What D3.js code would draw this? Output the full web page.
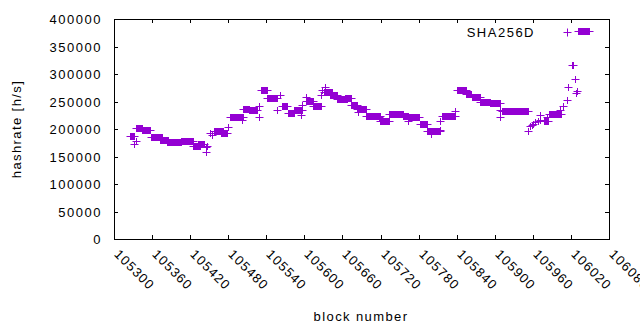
<!DOCTYPE html>
<html>
<head>
<meta charset="utf-8">
<script src="https://cdn.jsdelivr.net/npm/d3@7"></script>
<style>
body { margin: 0; background: #fff; }
text { font-family: "Liberation Sans", Arial, sans-serif; fill: #000; }
</style>
</head>
<body>
<svg width="640" height="330"></svg>
<script>
var xTicks = [105300, 105360, 105420, 105480, 105540, 105600, 105660,
              105720, 105780, 105840, 105900, 105960, 106020, 106080];
var yTicks = [0, 50000, 100000, 150000, 200000, 250000, 300000, 350000, 400000];
var seriesName = "SHA256D";

// blocks that share one estimate: [first block, last block, hashrate]
var runs = [
    [105325, 105331, 187000], [105332, 105332, 173000], [105335, 105335, 177500],
    [105335, 105344, 202500], [105344, 105357, 197500], [105358, 105376, 185000],
    [105372, 105385, 179500], [105383, 105406, 175500], [105406, 105425, 179000],
    [105425, 105435, 169500], [105433, 105442, 172500], [105445, 105445, 167000],
    [105445, 105445, 159000], [105447, 105447, 169000], [105451, 105451, 192000],
    [105455, 105455, 189000], [105457, 105472, 197000], [105468, 105478, 192000],
    [105480, 105480, 203500], [105483, 105503, 221000], [105501, 105501, 216000],
    [105503, 105512, 237000], [105512, 105525, 234000], [105529, 105529, 242000],
    [105528, 105528, 221000], [105532, 105541, 270000], [105541, 105557, 256000],
    [105557, 105557, 234500], [105561, 105561, 262000], [105565, 105573, 242500],
    [105574, 105583, 230000], [105584, 105596, 234500], [105594, 105594, 225000],
    [105596, 105596, 243500], [105602, 105602, 258500], [105603, 105614, 251000],
    [105614, 105626, 241000], [105626, 105626, 262000], [105628, 105628, 271000],
    [105632, 105632, 276000], [105631, 105643, 267000], [105641, 105651, 262500],
    [105651, 105667, 254500], [105664, 105673, 256000], [105674, 105683, 244500],
    [105683, 105697, 237000], [105684, 105684, 231500], [105697, 105719, 224000],
    [105717, 105717, 222500], [105719, 105733, 214500], [105733, 105733, 226500],
    [105735, 105755, 227500], [105755, 105764, 224500], [105764, 105781, 221500],
    [105763, 105763, 215000], [105782, 105793, 209500], [105793, 105814, 196500],
    [105799, 105799, 191000], [105814, 105814, 215000], [105814, 105814, 198000],
    [105817, 105837, 223000], [105837, 105837, 232500], [105840, 105854, 270000],
    [105854, 105863, 264000], [105864, 105876, 258500], [105877, 105893, 249500],
    [105893, 105908, 248000], [105909, 105909, 234500], [105909, 105909, 221000],
    [105912, 105952, 232000], [105953, 105953, 197000], [105955, 105955, 205000],
    [105958, 105958, 208000], [105961, 105961, 210000], [105964, 105964, 213000],
    [105968, 105968, 214500], [105971, 105971, 216000], [105972, 105972, 225500],
    [105977, 105984, 214500], [105982, 105982, 221000], [105986, 106004, 228000],
    [106003, 106003, 234500], [106008, 106008, 242000], [106014, 106014, 252500],
    [106016, 106016, 276000], [106021, 106023, 316000], [106026, 106026, 290500],
    [106028, 106028, 265000], [106030, 106030, 269500], [106031, 106048, 378000]
];

var svg = d3.select("svg");
var margin = {top: 19, right: 31, bottom: 91, left: 114},
    width = 640 - margin.left - margin.right,
    height = 330 - margin.top - margin.bottom;
var color = "#9400d3", h = 3.5, tick = 4;

var x = d3.scaleLinear().domain([105300, 106080]).range([0, width]);
var y = d3.scaleLinear().domain([0, 400000]).range([height, 0]);

var g = svg.append("g").attr("transform", "translate(" + margin.left + "," + margin.top + ")");

// points: a run of equal values turns the "+" marks into a block
var pts = g.append("g").attr("class", "points");
runs.forEach(function(d) {
    var x0 = Math.round(x(d[0])), x1 = Math.round(x(d[1])), yy = Math.round(y(d[2]));
    pts.append("line")
        .attr("x1", x0 - h).attr("x2", x1 + h + 1)
        .attr("y1", yy + 0.5).attr("y2", yy + 0.5)
        .attr("stroke", color).attr("stroke-width", 1);
    pts.append("rect")
        .attr("x", x0).attr("width", x1 - x0 + 1)
        .attr("y", yy - h + 0.5).attr("height", 2 * h)
        .attr("fill", color);
});

// frame and ticks on all four sides
g.append("rect")
    .attr("x", 0.5).attr("y", 0.5)
    .attr("width", width).attr("height", height)
    .attr("fill", "none").attr("stroke", "#000");

xTicks.forEach(function(t) {
    var xx = Math.round(x(t)) + 0.5;
    g.append("line").attr("x1", xx).attr("x2", xx).attr("y1", height).attr("y2", height - tick).attr("stroke", "#000");
    g.append("line").attr("x1", xx).attr("x2", xx).attr("y1", 0).attr("y2", tick).attr("stroke", "#000");
    g.append("text")
        .attr("transform", "translate(" + (xx - 1) + "," + (height + 16) + ") rotate(45)")
        .style("font-size", "13px").style("letter-spacing", "1.2px")
        .text(t);
});

yTicks.forEach(function(t) {
    var yy = Math.round(y(t)) + 0.5;
    g.append("line").attr("x1", 0).attr("x2", tick).attr("y1", yy).attr("y2", yy).attr("stroke", "#000");
    g.append("line").attr("x1", width).attr("x2", width - tick).attr("y1", yy).attr("y2", yy).attr("stroke", "#000");
    g.append("text")
        .attr("x", -12).attr("y", yy + 4.6)
        .attr("text-anchor", "end")
        .style("font-size", "13px").style("letter-spacing", "1.5px")
        .text(t);
});

// axis titles
svg.append("text")
    .attr("x", 361).attr("y", 321)
    .attr("text-anchor", "middle")
    .style("font-size", "13px").style("letter-spacing", "1.4px")
    .text("block number");

svg.append("text")
    .attr("transform", "translate(21,129) rotate(-90)")
    .attr("text-anchor", "middle")
    .style("font-size", "13px").style("letter-spacing", "1.4px")
    .text("hashrate [h/s]");

// legend
svg.append("text")
    .attr("x", 535).attr("y", 37)
    .attr("text-anchor", "end")
    .style("font-size", "13px").style("letter-spacing", "1.5px")
    .text(seriesName);

svg.append("path")
    .attr("d", "M563.5,32.5H571.5M567.5,28.5V36.5")
    .attr("stroke", color).attr("fill", "none");
</script>
</body>
</html>
